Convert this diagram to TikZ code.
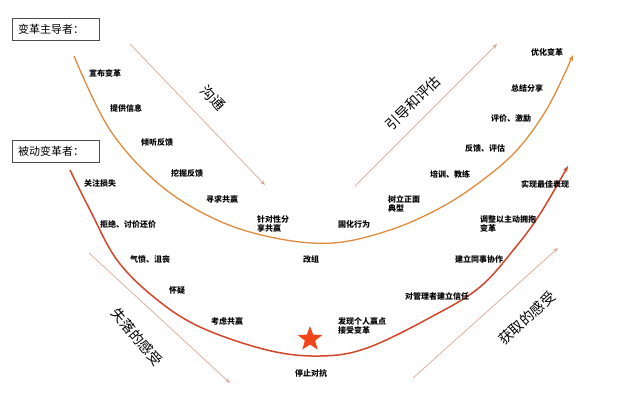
\documentclass[tikz,border=0pt]{standalone}
\usepackage{fontspec}
\setmainfont{Noto Sans CJK SC}
\usetikzlibrary{arrows.meta,shapes.geometric}
\definecolor{upc}{HTML}{E08A3C}
\definecolor{lowc}{HTML}{D2462A}
\definecolor{thinc}{HTML}{D9A894}
\definecolor{starc}{HTML}{F2461A}
\tikzset{
  lbl/.style={font=\fontsize{8}{9.5}\selectfont\bfseries, inner sep=0pt, align=left},
  big/.style={font=\fontsize{14}{16}\selectfont, inner sep=0pt},
  hdr/.style={draw=black!70, line width=0.6pt, minimum width=87pt, minimum height=22pt, font=\fontsize{11}{12}\selectfont, inner sep=0pt, text width=75pt, align=left},
  thin/.style={draw=thinc, line width=0.7pt, -{Stealth[length=5pt,width=4pt]}},
}
\begin{document}
\begin{tikzpicture}[x=1pt,y=-1pt]
\useasboundingbox (0,0) rectangle (640,410);
\fill[white] (0,0) rectangle (640,410);
% header boxes
\node[hdr] (lead) at (55.5,29) {变革主导者：};
\node[hdr] (pass) at (55.5,151) {被动变革者：};
% upper arc
\coordinate (ua) at (74,56);
\coordinate (ub) at (573,55);
\draw[upc, line width=1.3pt, -{Stealth[length=6pt,width=4.5pt]}] plot[smooth, tension=0.6] coordinates {(ua) (110,130) (160,185) (217,220) (275,238) (333,243) (390,230) (440,208) (480,182) (517,150) (548,107) (ub)};
% lower arc
\coordinate (la) at (70,170);
\coordinate (lb) at (568,166);
\draw[lowc, line width=1.5pt, -{Stealth[length=6pt,width=4.5pt]}] plot[smooth, tension=0.6] coordinates {(la) (90,210) (117,260) (155,298) (200,327) (267,350) (320,356) (367,348) (433,316) (480,287) (515,248) (540,214) (lb)};
% straight arrows
\coordinate (g1) at (130,44); \coordinate (g2) at (265,185);
\draw[thin] (g1) -- (g2);
\coordinate (y1) at (355,186); \coordinate (y2) at (497,44);
\draw[thin] (y1) -- (y2);
\coordinate (s1) at (89,253); \coordinate (s2) at (230,383);
\draw[thin] (s1) -- (s2);
\coordinate (h1) at (413,378); \coordinate (h2) at (558,248);
\draw[thin] (h1) -- (h2);
% big labels
\node[big, rotate=-47] (tgt) at (213,98) {沟通};
\node[big, rotate=44] (tyd) at (413,103) {引导和评估};
\node[big, rotate=-50] (tsl) at (137,337) {失落的感受};
\node[big, rotate=42] (thq) at (527,318) {获取的感受};
% star
\node[star, star points=5, star point ratio=2.4, fill=starc, minimum size=26pt, inner sep=0pt] (st) at (310,339) {};
% upper labels
\node[lbl] (u1) at (105,73) {宣布变革};
\node[lbl] (u2) at (126,108) {提供信息};
\node[lbl] (u3) at (157,143) {倾听反馈};
\node[lbl] (u4) at (187,173) {挖掘反馈};
\node[lbl] (u5) at (222,199) {寻求共赢};
\node[lbl, anchor=west] (u6) at (257,224) {针对性分\\享共赢};
\node[lbl] (u7) at (354,224) {固化行为};
\node[lbl, anchor=west] (u8) at (388,204) {树立正面\\典型};
\node[lbl] (u9) at (450,174) {培训、教练};
\node[lbl] (u10) at (485,148) {反馈、评估};
\node[lbl] (u11) at (511,118) {评价、激励};
\node[lbl] (u12) at (527,88) {总结分享};
\node[lbl] (u13) at (547,52) {优化变革};
% lower labels
\node[lbl] (l1) at (100,183) {关注损失};
\node[lbl] (l2) at (128,224) {拒绝、讨价还价};
\node[lbl] (l3) at (150,259) {气愤、沮丧};
\node[lbl] (l4) at (177,290) {怀疑};
\node[lbl] (l5) at (227,321) {考虑共赢};
\node[lbl] (l6) at (311,259) {改组};
\node[lbl] (l7) at (311,373) {停止对抗};
\node[lbl, anchor=west] (l8) at (338,326) {发现个人赢点\\接受变革};
\node[lbl] (l9) at (437,296) {对管理者建立信任};
\node[lbl] (l10) at (479,259) {建立同事协作};
\node[lbl, anchor=west] (l11) at (480,224) {调整以主动拥抱\\变革};
\node[lbl] (l12) at (545,184) {实现最佳表现};
\end{tikzpicture}
\end{document}
